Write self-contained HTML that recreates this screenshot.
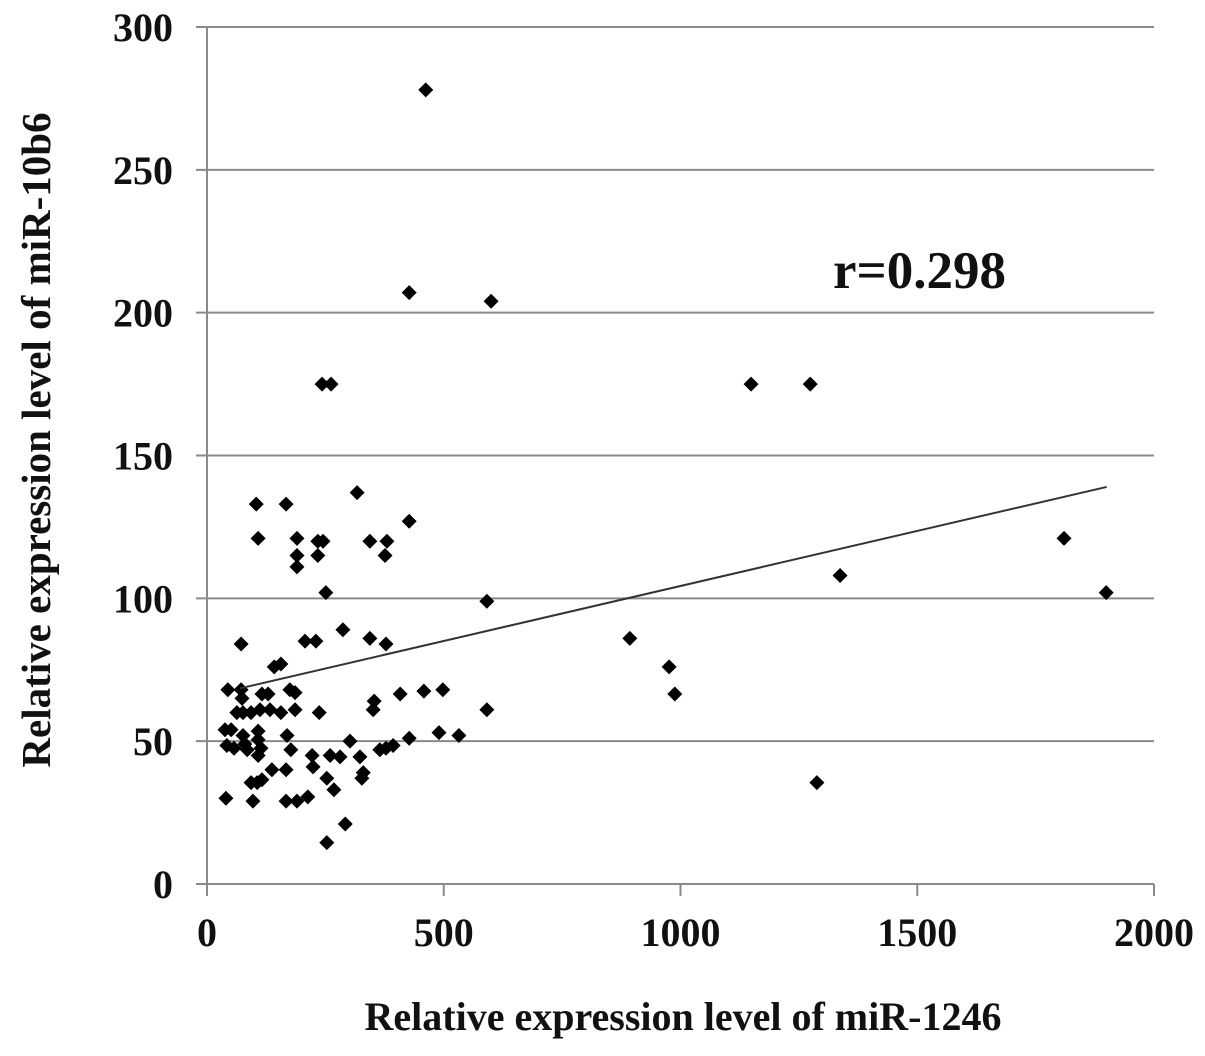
<!DOCTYPE html>
<html><head><meta charset="utf-8"><style>
body{margin:0;background:#fff}
svg text{font-family:"Liberation Serif",serif;font-weight:bold;fill:#111}
</style></head><body>
<svg id="chart" width="1205" height="1051" xmlns="http://www.w3.org/2000/svg">
<g id="grid"></g>
<g id="axes"></g>
<g id="ticks"></g>
<g id="pts"></g>
<line id="trend" stroke="#333" stroke-width="2"/>
<text x="833" y="288" font-size="53">r=0.298</text>
<text x="683" y="1030" font-size="40" text-anchor="middle">Relative expression level of miR-1246</text>
<text transform="translate(50,440) rotate(-90)" font-size="41" text-anchor="middle">Relative expression level of miR-10b6</text>
</svg>
<script>
const xTicks=[0,500,1000,1500,2000];
const yTicks=[0,50,100,150,200,250,300];
const xVals=[462,427,600,243,262,1149,1274,317,104,167,108,190,234,245,344,380,190,234,376,190,427,251,591,1337,287,207,230,344,378,72,893,976,988,1810,1899,156,142,44,72,74,116,129,175,186,112,133,156,63,76,93,186,237,408,458,498,353,351,591,532,38,51,76,108,80,108,42,57,85,114,302,169,177,323,222,260,281,330,365,378,393,427,490,108,137,167,116,224,253,93,106,40,97,190,167,213,268,327,1288,292,253];
const yVals=[278,207,204,175,175,175,175,137,133,133,121,121,120,120,120,120,115,115,115,111,127,102,99,108,89,85,85,86,84,84,86,76,66.5,121,102,77,76,68,68,65,66.5,66.5,68,67,61,61,60,60,60,60,61,60,66.5,67.5,68,64,61,61,52,54,54,52,53.5,49,50.5,48.5,47.5,47,47.5,50,52,47,44.5,45,45,44.5,39,47,47.5,48.5,51,53,45,40,40,36.5,41,37,35.5,35.5,30,29,29,29,30.5,33,37,35.5,21,14.5];
const trendX=[70,1900];
const trendY=[68.5,139];
const X0=207,X1=1154,Y0=884,Y1=27;
const sx=v=>X0+(v-0)/2000*(X1-X0);
const sy=v=>Y0-(v/300)*(Y0-Y1);
const NS="http://www.w3.org/2000/svg";
function mk(t,a,p){const e=document.createElementNS(NS,t);for(const k in a)e.setAttribute(k,a[k]);p.appendChild(e);return e;}
const grid=document.getElementById('grid'),axes=document.getElementById('axes'),ticks=document.getElementById('ticks'),pts=document.getElementById('pts');
yTicks.forEach(v=>{
 const l=mk('line',{x1:196,x2:X1,y1:sy(v),y2:sy(v),stroke:'#8a8a8a','stroke-width':2},grid);
 
 
 const t=mk('text',{x:173,y:sy(v)+14,'font-size':40,'text-anchor':'end'},ticks);t.textContent=v;
 
 
});
xTicks.forEach(v=>{
 const t=mk('text',{x:sx(v),y:946,'font-size':40,'text-anchor':'middle'},ticks);t.textContent=v;
 
 
 const k=mk('line',{x1:sx(v),x2:sx(v),y1:Y0,y2:896,stroke:'#8a8a8a','stroke-width':2},axes);
 
 
});
const ya=mk('line',{x1:X0,x2:X0,y1:Y1,y2:896,stroke:'#8a8a8a','stroke-width':2},axes);


xVals.forEach((xv,i)=>{
 const cx=sx(xv),cy=sy(yVals[i]);
 const p=mk('polygon',{points:`${cx},${cy-7.5} ${cx+7.5},${cy} ${cx},${cy+7.5} ${cx-7.5},${cy}`,fill:'#000'},pts);
 
 
});
const tr=document.getElementById('trend');
tr.setAttribute('x1',sx(trendX[0]));tr.setAttribute('y1',sy(trendY[0]));
tr.setAttribute('x2',sx(trendX[1]));tr.setAttribute('y2',sy(trendY[1]));
</script>
</body></html>
